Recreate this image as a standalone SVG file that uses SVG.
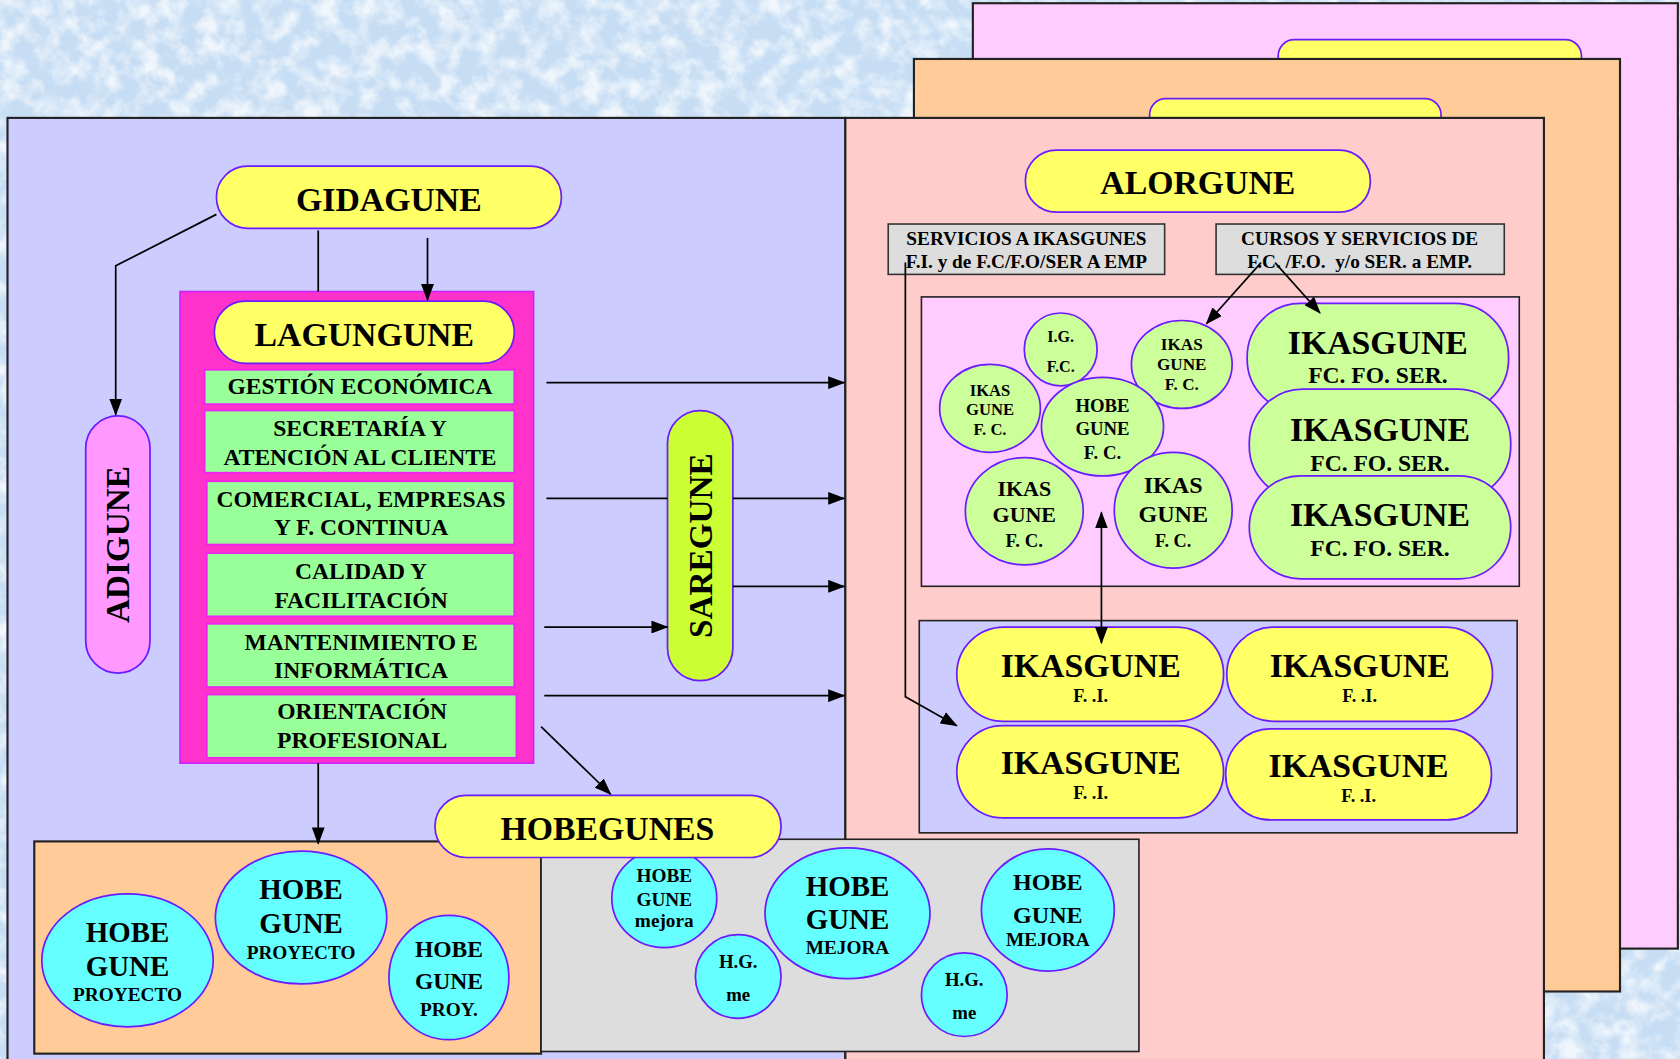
<svg xmlns="http://www.w3.org/2000/svg" width="1680" height="1059" viewBox="0 0 1680 1059">
<defs>
<marker id="ah" viewBox="0 0 16 12" refX="15" refY="6" markerWidth="16" markerHeight="12" markerUnits="userSpaceOnUse" orient="auto-start-reverse">
<path d="M0,0 L16,6 L0,12 Z" fill="#000"/>
</marker>
<filter id="tex" x="0" y="0" width="100%" height="100%">
<feTurbulence type="fractalNoise" baseFrequency="0.05" numOctaves="4" seed="7"/>
<feColorMatrix type="matrix" values="0 0 0 0 1  0 0 0 0 1  0 0 0 0 1  2.6 0 0 0 -1.0"/>
</filter>
</defs>
<style>
text{font-family:"Liberation Serif","Times New Roman",serif;font-weight:bold;fill:#000;text-anchor:middle}
.panel{stroke:#222;stroke-width:2}
.pill{stroke:#6a1bff;stroke-width:1.6}
.yel{fill:#ffff66}
.grn{fill:#99ff99;stroke:#ee22ee;stroke-width:1.6}
.lg{fill:#ccff99;stroke:#6a1bff;stroke-width:1.6}
.cy{fill:#66ffff;stroke:#6a1bff;stroke-width:1.6}
.gbox{fill:#dddddd;stroke:#333;stroke-width:1.5}
.t{font-size:31.5px}
.b{font-size:22px}
.con{fill:none;stroke:#000;stroke-width:1.6}
</style>
<rect width="1680" height="1059" fill="#c6ddf4"/>
<rect width="1680" height="1059" filter="url(#tex)" opacity="0.75"/>
<g transform="scale(1.0714286,1.0718623)">
<g id="panel-back-pink">
<rect x="908" y="3" width="658" height="882" fill="#ffccff" class="panel"/>
<rect x="1193" y="37" width="283" height="40" rx="15" class="yel pill"/>
</g>
<g id="panel-back-orange">
<rect x="853" y="55" width="659" height="870" fill="#ffcc99" class="panel"/>
<rect x="1073" y="92" width="272" height="40" rx="15" class="yel pill"/>
</g>
<g id="panel-left">
<rect x="7" y="110" width="782" height="890" fill="#ccccff" class="panel"/>
</g>
<g id="panel-right">
<rect x="789" y="110" width="652" height="890" fill="#ffcccc" class="panel"/>
</g>

<g id="gidagune">
<rect x="202" y="155" width="322" height="58" rx="29" class="yel pill"/>
<text x="363" y="196.5" class="t">GIDAGUNE</text>
</g>
<g id="adigune">
<rect x="80" y="388" width="60" height="240" rx="30" fill="#ff99ff" class="pill"/>
<text transform="translate(110,508) rotate(-90)" y="10.5" style="font-size:31px">ADIGUNE</text>
</g>
<g id="lagungune">
<rect x="168" y="272" width="330" height="440" fill="#ff33cc" stroke="#cc22ff" stroke-width="1.5"/>
<rect x="200" y="281" width="280" height="58" rx="29" class="yel pill"/>
<text x="340" y="322.5" class="t">LAGUNGUNE</text>
</g>
<g id="gestion">
<rect x="191" y="345" width="289" height="32" class="grn"/>
<text x="336" y="368" class="b">GESTIÓN ECONÓMICA</text>
</g>
<g id="secretaria">
<rect x="191" y="383" width="289" height="58" class="grn"/>
<text x="336" y="407" class="b">SECRETARÍA Y</text>
<text x="336" y="434" class="b">ATENCIÓN AL CLIENTE</text>
</g>
<g id="comercial">
<rect x="193" y="449" width="287" height="59" class="grn"/>
<text x="337" y="473" class="b">COMERCIAL, EMPRESAS</text>
<text x="337" y="499" class="b">Y F. CONTINUA</text>
</g>
<g id="calidad">
<rect x="193" y="516" width="287" height="59" class="grn"/>
<text x="337" y="540" class="b">CALIDAD Y</text>
<text x="337" y="567" class="b">FACILITACIÓN</text>
</g>
<g id="mantenimiento">
<rect x="193" y="582" width="287" height="59" class="grn"/>
<text x="337" y="606" class="b">MANTENIMIENTO E</text>
<text x="337" y="633" class="b">INFORMÁTICA</text>
</g>
<g id="orientacion">
<rect x="193" y="648" width="289" height="59" class="grn"/>
<text x="338" y="671" class="b">ORIENTACIÓN</text>
<text x="338" y="698" class="b">PROFESIONAL</text>
</g>
<g id="saregune">
<rect x="623" y="383" width="61" height="252" rx="30.5" fill="#ccff33" class="pill"/>
<text transform="translate(654,509) rotate(-90)" y="10.5" style="font-size:31px">SAREGUNE</text>
</g>

<g id="alorgune">
<rect x="957" y="140" width="322" height="58" rx="29" class="yel pill"/>
<text x="1118" y="181" class="t">ALORGUNE</text>
</g>
<g id="servicios">
<rect x="829" y="209" width="258" height="47" class="gbox"/>
<text x="958" y="229" style="font-size:18px">SERVICIOS A IKASGUNES</text>
<text x="958" y="250" style="font-size:18px">F.I. y de F.C/F.O/SER A EMP</text>
</g>
<g id="cursos">
<rect x="1135" y="209" width="269" height="47" class="gbox"/>
<text x="1269" y="229" style="font-size:18px">CURSOS Y SERVICIOS DE</text>
<text x="1269" y="250" style="font-size:18px" xml:space="preserve">F.C. /F.O.  y/o SER. a EMP.</text>
</g>
<g id="ikasgunes-fc">
<rect x="860" y="277" width="558" height="270" fill="#ffccff" class="panel" style="stroke-width:1.5"/>
</g>
<g id="ig-fc">
<ellipse cx="990" cy="326" rx="34" ry="34" class="lg"/>
<text x="990" y="319" style="font-size:15px">I.G.</text>
<text x="990" y="347" style="font-size:15px">F.C.</text>
</g>
<g id="ikas-fc-1">
<ellipse cx="1103" cy="340" rx="47" ry="41" class="lg"/>
<text x="1103" y="327" style="font-size:16px">IKAS</text>
<text x="1103" y="345" style="font-size:16px">GUNE</text>
<text x="1103" y="364" style="font-size:16px">F. C.</text>
</g>
<g id="ikas-fc-2">
<ellipse cx="924" cy="381" rx="47" ry="41" class="lg"/>
<text x="924" y="369" style="font-size:15.5px">IKAS</text>
<text x="924" y="387" style="font-size:15.5px">GUNE</text>
<text x="924" y="406" style="font-size:15.5px">F. C.</text>
</g>
<g id="hobe-fc">
<ellipse cx="1029" cy="398" rx="57" ry="46" class="lg"/>
<text x="1029" y="384" style="font-size:17.5px">HOBE</text>
<text x="1029" y="406" style="font-size:17.5px">GUNE</text>
<text x="1029" y="428" style="font-size:17.5px">F. C.</text>
</g>
<g id="ikas-fc-3">
<ellipse cx="956" cy="477" rx="55" ry="50" class="lg"/>
<text x="956" y="463" style="font-size:20.5px">IKAS</text>
<text x="956" y="487" style="font-size:20.5px">GUNE</text>
<text x="956" y="510" style="font-size:17.5px">F. C.</text>
</g>
<g id="ikas-fc-4">
<ellipse cx="1095" cy="476" rx="55" ry="54" class="lg"/>
<text x="1095" y="460" style="font-size:22.5px">IKAS</text>
<text x="1095" y="487" style="font-size:22.5px">GUNE</text>
<text x="1095" y="510" style="font-size:17px">F. C.</text>
</g>
<g id="ikasgune-ser-1">
<rect x="1164" y="283" width="244" height="102" rx="50" class="lg"/>
<text x="1286" y="330" class="t">IKASGUNE</text>
<text x="1286" y="357" class="b">FC. FO. SER.</text>
</g>
<g id="ikasgune-ser-2">
<rect x="1166" y="363" width="244" height="103" rx="50" class="lg"/>
<text x="1288" y="411" class="t">IKASGUNE</text>
<text x="1288" y="439" class="b">FC. FO. SER.</text>
</g>
<g id="ikasgune-ser-3">
<rect x="1166" y="444" width="244" height="96" rx="48" class="lg"/>
<text x="1288" y="491" class="t">IKASGUNE</text>
<text x="1288" y="519" class="b">FC. FO. SER.</text>
</g>
<g id="ikasgunes-fi">
<rect x="858" y="579" width="558" height="198" fill="#ccccff" class="panel" style="stroke-width:1.5"/>
</g>
<g id="ikasgune-fi-1">
<rect x="893" y="585" width="249" height="88" rx="44" class="yel pill"/>
<text x="1018" y="632" class="t">IKASGUNE</text>
<text x="1018" y="655" style="font-size:17px">F. .I.</text>
</g>
<g id="ikasgune-fi-2">
<rect x="1145" y="585" width="248" height="88" rx="44" class="yel pill"/>
<text x="1269" y="632" class="t">IKASGUNE</text>
<text x="1269" y="655" style="font-size:17px">F. .I.</text>
</g>
<g id="ikasgune-fi-3">
<rect x="893" y="677" width="249" height="86" rx="43" class="yel pill"/>
<text x="1018" y="722" class="t">IKASGUNE</text>
<text x="1018" y="745" style="font-size:17px">F. .I.</text>
</g>
<g id="ikasgune-fi-4">
<rect x="1144" y="680" width="248" height="85" rx="42" class="yel pill"/>
<text x="1268" y="725" class="t">IKASGUNE</text>
<text x="1268" y="748" style="font-size:17px">F. .I.</text>
</g>

<g id="proyecto-box">
<rect x="32" y="785" width="473" height="198" fill="#ffcc99" class="panel"/>
</g>
<g id="mejora-box">
<rect x="505" y="783" width="558" height="198" fill="#dddddd" class="panel" style="stroke-width:1.5"/>
</g>
<g id="hobe-proy-1">
<ellipse cx="119" cy="896" rx="80" ry="62" class="cy"/>
<text x="119" y="879" style="font-size:27px">HOBE</text>
<text x="119" y="911" style="font-size:27px">GUNE</text>
<text x="119" y="934" style="font-size:18px">PROYECTO</text>
</g>
<g id="hobe-proy-2">
<ellipse cx="281" cy="856" rx="80" ry="62" class="cy"/>
<text x="281" y="839" style="font-size:27px">HOBE</text>
<text x="281" y="870" style="font-size:27px">GUNE</text>
<text x="281" y="895" style="font-size:18px">PROYECTO</text>
</g>
<g id="hobe-proy-3">
<ellipse cx="419" cy="912" rx="56" ry="58" class="cy"/>
<text x="419" y="893" style="font-size:22px">HOBE</text>
<text x="419" y="923" style="font-size:22px">GUNE</text>
<text x="419" y="948" style="font-size:18px">PROY.</text>
</g>
<g id="hobe-mejora-1">
<ellipse cx="620" cy="838" rx="49" ry="46" class="cy"/>
<text x="620" y="823" style="font-size:18px">HOBE</text>
<text x="620" y="845" style="font-size:18px">GUNE</text>
<text x="620" y="865" style="font-size:18px">mejora</text>
</g>
<g id="hg-me-1">
<ellipse cx="689" cy="911" rx="40" ry="39" class="cy"/>
<text x="689" y="903" style="font-size:17.5px">H.G.</text>
<text x="689" y="934" style="font-size:17.5px">me</text>
</g>
<g id="hobe-mejora-2">
<ellipse cx="791" cy="852" rx="77" ry="61" class="cy"/>
<text x="791" y="836" style="font-size:27px">HOBE</text>
<text x="791" y="867" style="font-size:27px">GUNE</text>
<text x="791" y="890" style="font-size:18px">MEJORA</text>
</g>
<g id="hobe-mejora-3">
<ellipse cx="978" cy="849" rx="62" ry="57" class="cy"/>
<text x="978" y="830" style="font-size:22.5px">HOBE</text>
<text x="978" y="861" style="font-size:22.5px">GUNE</text>
<text x="978" y="883" style="font-size:18px">MEJORA</text>
</g>
<g id="hg-me-2">
<ellipse cx="900" cy="928" rx="40" ry="39" class="cy"/>
<text x="900" y="920" style="font-size:17.5px">H.G.</text>
<text x="900" y="951" style="font-size:17.5px">me</text>
</g>
<g id="hobegunes">
<rect x="406" y="742" width="323" height="58" rx="29" class="yel pill"/>
<text x="567" y="784" class="t">HOBEGUNES</text>
</g>

<g id="connectors" class="con">
<path d="M202,200 L108,248 L108,387" marker-end="url(#ah)"/>
<path d="M297,215 L297,272"/>
<path d="M399,222 L399,280" marker-end="url(#ah)"/>
<path d="M510,357 L788,357" marker-end="url(#ah)"/>
<path d="M510,465 L623,465"/>
<path d="M684,465 L788,465" marker-end="url(#ah)"/>
<path d="M684,547 L788,547" marker-end="url(#ah)"/>
<path d="M508,585 L623,585" marker-end="url(#ah)"/>
<path d="M508,649 L788,649" marker-end="url(#ah)"/>
<path d="M505,678 L570,741" marker-end="url(#ah)"/>
<path d="M297,712 L297,787" marker-end="url(#ah)"/>
<path d="M1177,245 L1126,302" marker-end="url(#ah)"/>
<path d="M1190,245 L1232,292" marker-end="url(#ah)"/>
<path d="M845,245 L845,650 L893,677" marker-end="url(#ah)"/>
<path d="M1028,478 L1028,600" marker-start="url(#ah)" marker-end="url(#ah)"/>
</g>
</g>
</svg>
